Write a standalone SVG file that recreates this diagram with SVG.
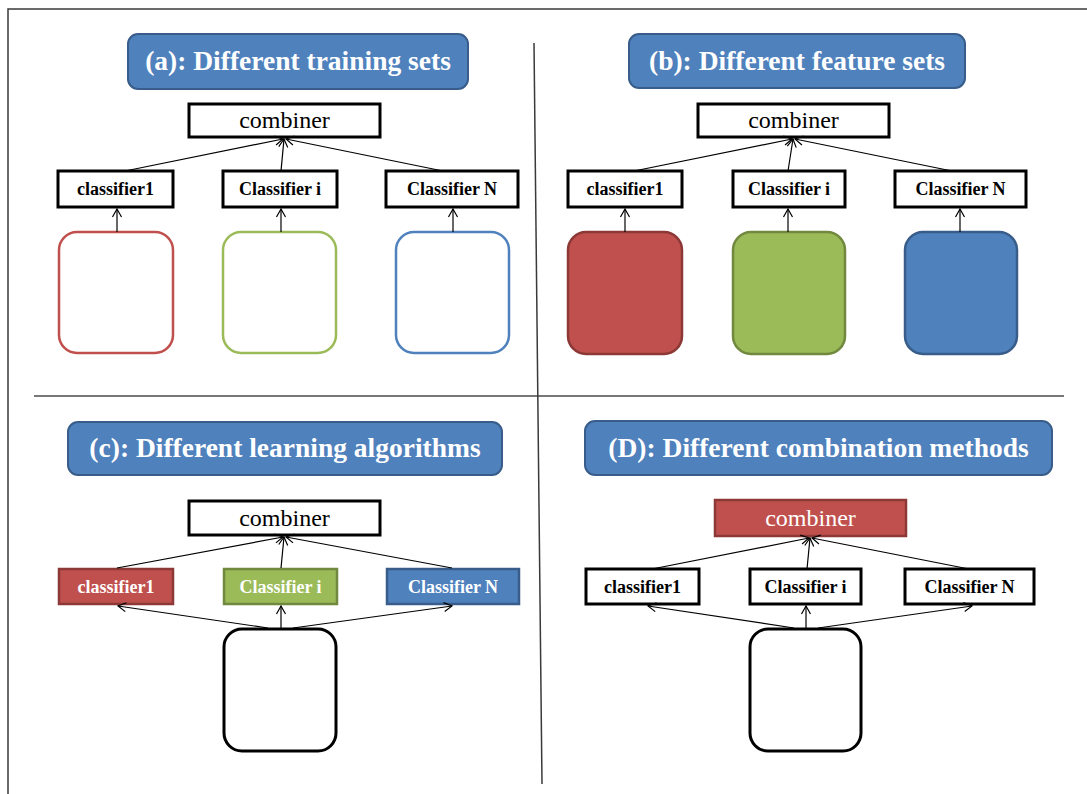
<svg xmlns="http://www.w3.org/2000/svg" width="1087" height="794" viewBox="0 0 1087 794">
  <defs>
    <marker id="arrow" markerUnits="userSpaceOnUse" markerWidth="12" markerHeight="12" viewBox="0 0 12 12" refX="10" refY="6" orient="auto">
      <path d="M2,1.5 L10,6 L2,10.5" fill="none" stroke="#000" stroke-width="1.2"/>
    </marker>
    <style>
      .frame { stroke: #3a3a3a; stroke-width: 1.5; fill: none; }
      .divider { stroke: #777; stroke-width: 2; fill: none; }
      .title-box { fill: #4F81BD; stroke: #385D8A; stroke-width: 2; }
      .title { font-family: "Liberation Serif", "Times New Roman", serif; font-weight: bold; font-size: 27.5px; fill: #fff; text-anchor: middle; }
      .box { fill: #fff; stroke: #000; stroke-width: 3; }
      .comb-text { font-family: "Liberation Serif", "Times New Roman", serif; font-size: 24px; fill: #000; text-anchor: middle; }
      .cls-text { font-family: "Liberation Serif", "Times New Roman", serif; font-weight: bold; font-size: 18px; fill: #000; text-anchor: middle; }
      .white { fill: #fff; }
      .red-fill { fill: #C0504D; stroke: #8C3836; stroke-width: 2.5; }
      .green-fill { fill: #9BBB59; stroke: #71893F; stroke-width: 2.5; }
      .blue-fill { fill: #4F81BD; stroke: #385D8A; stroke-width: 2.5; }
      .red-line { fill: #fff; stroke: #C0504D; stroke-width: 2.5; }
      .green-line { fill: #fff; stroke: #9BBB59; stroke-width: 2.5; }
      .blue-line { fill: #fff; stroke: #4F81BD; stroke-width: 2.5; }
      .black-line { fill: #fff; stroke: #000; stroke-width: 3; }
      .conn { stroke: #000; stroke-width: 1.2; fill: none; marker-end: url(#arrow); }
    </style>
  </defs>

  <rect x="0" y="0" width="1087" height="794" fill="#fff"/>

  <!-- outer frame and quadrant dividers -->
  <g id="layout">
    <path class="frame" d="M8,794 L8,9 L1087,9"/>
    <line class="divider" x1="34" y1="396" x2="1064" y2="396"/>
    <line class="frame" x1="534" y1="43" x2="542" y2="784"/>
  </g>

  <!-- (a) different training sets -->
  <g id="title-a">
    <rect class="title-box" x="128" y="34" width="340" height="55" rx="10"/>
    <text class="title" x="298" y="70">(a): Different training sets</text>
  </g>
  <g id="combiner-a">
    <rect class="box" x="189" y="104" width="191" height="33"/>
    <text class="comb-text" x="284.5" y="128">combiner</text>
  </g>
  <g id="classifier1-a">
    <rect class="box" x="58" y="171" width="115" height="36"/>
    <text class="cls-text" x="115.5" y="195">classifier1</text>
  </g>
  <g id="classifieri-a">
    <rect class="box" x="223" y="171" width="114" height="36"/>
    <text class="cls-text" x="280" y="195">Classifier i</text>
  </g>
  <g id="classifierN-a">
    <rect class="box" x="386" y="171" width="132" height="36"/>
    <text class="cls-text" x="452" y="195">Classifier N</text>
  </g>
  <g id="data1-a"><rect class="red-line" x="59" y="232" width="114" height="121" rx="18"/></g>
  <g id="datai-a"><rect class="green-line" x="223" y="232" width="113" height="121" rx="18"/></g>
  <g id="dataN-a"><rect class="blue-line" x="396" y="232" width="113" height="121" rx="18"/></g>

  <!-- (b) different feature sets -->
  <g id="title-b">
    <rect class="title-box" x="629" y="34" width="336" height="54" rx="10"/>
    <text class="title" x="797" y="70">(b): Different feature sets</text>
  </g>
  <g id="combiner-b">
    <rect class="box" x="698" y="104" width="191" height="33"/>
    <text class="comb-text" x="793.5" y="128">combiner</text>
  </g>
  <g id="classifier1-b">
    <rect class="box" x="568" y="171" width="114" height="36"/>
    <text class="cls-text" x="625" y="195">classifier1</text>
  </g>
  <g id="classifieri-b">
    <rect class="box" x="733" y="171" width="112" height="36"/>
    <text class="cls-text" x="789" y="195">Classifier i</text>
  </g>
  <g id="classifierN-b">
    <rect class="box" x="895" y="171" width="131" height="36"/>
    <text class="cls-text" x="960.5" y="195">Classifier N</text>
  </g>
  <g id="data1-b"><rect class="red-fill" x="568" y="232" width="114" height="122" rx="18"/></g>
  <g id="datai-b"><rect class="green-fill" x="733" y="232" width="112" height="122" rx="18"/></g>
  <g id="dataN-b"><rect class="blue-fill" x="905" y="232" width="112" height="122" rx="18"/></g>

  <!-- (c) different learning algorithms -->
  <g id="title-c">
    <rect class="title-box" x="68" y="422" width="434" height="53" rx="10"/>
    <text class="title" x="285" y="457">(c): Different learning algorithms</text>
  </g>
  <g id="combiner-c">
    <rect class="box" x="189" y="501" width="191" height="34"/>
    <text class="comb-text" x="284.5" y="526">combiner</text>
  </g>
  <g id="classifier1-c">
    <rect class="red-fill" x="59" y="569" width="114" height="35" stroke-width="2"/>
    <text class="cls-text white" x="116" y="593">classifier1</text>
  </g>
  <g id="classifieri-c">
    <rect class="green-fill" x="224" y="569" width="113" height="35" stroke-width="2"/>
    <text class="cls-text white" x="280.5" y="593">Classifier i</text>
  </g>
  <g id="classifierN-c">
    <rect class="blue-fill" x="387" y="569" width="132" height="35" stroke-width="2"/>
    <text class="cls-text white" x="453" y="593">Classifier N</text>
  </g>
  <g id="data-c"><rect class="black-line" x="224" y="629" width="112" height="122" rx="18"/></g>

  <!-- (D) different combination methods -->
  <g id="title-d">
    <rect class="title-box" x="585" y="421" width="467" height="54" rx="10"/>
    <text class="title" x="818.5" y="457">(D): Different combination methods</text>
  </g>
  <g id="combiner-d">
    <rect class="red-fill" x="715" y="500" width="191" height="36" stroke-width="2"/>
    <text class="comb-text white" x="810.5" y="526">combiner</text>
  </g>
  <g id="classifier1-d">
    <rect class="box" x="586" y="569" width="113" height="35"/>
    <text class="cls-text" x="642.5" y="593">classifier1</text>
  </g>
  <g id="classifieri-d">
    <rect class="box" x="750" y="569" width="111" height="35"/>
    <text class="cls-text" x="805.5" y="593">Classifier i</text>
  </g>
  <g id="classifierN-d">
    <rect class="box" x="905" y="569" width="129" height="35"/>
    <text class="cls-text" x="969.5" y="593">Classifier N</text>
  </g>
  <g id="data-d"><rect class="black-line" x="750" y="629" width="111" height="122" rx="18"/></g>

  <!-- connectors -->
  <g id="connectors">
    <!-- (a) -->
    <line class="conn" x1="125" y1="171" x2="283" y2="139"/>
    <line class="conn" x1="281" y1="171" x2="284" y2="139"/>
    <line class="conn" x1="443" y1="171" x2="286" y2="139"/>
    <line class="conn" x1="117" y1="232" x2="117" y2="209"/>
    <line class="conn" x1="281" y1="232" x2="281" y2="209"/>
    <line class="conn" x1="453" y1="232" x2="453" y2="209"/>
    <!-- (b) -->
    <line class="conn" x1="634" y1="171" x2="792" y2="139"/>
    <line class="conn" x1="788" y1="171" x2="793" y2="139"/>
    <line class="conn" x1="952" y1="171" x2="795" y2="139"/>
    <line class="conn" x1="625" y1="232" x2="625" y2="209"/>
    <line class="conn" x1="788" y1="232" x2="788" y2="209"/>
    <line class="conn" x1="960" y1="232" x2="960" y2="209"/>
    <!-- (c) -->
    <line class="conn" x1="117" y1="568" x2="283" y2="537"/>
    <line class="conn" x1="281" y1="568" x2="284" y2="537"/>
    <line class="conn" x1="452" y1="568" x2="286" y2="537"/>
    <line class="conn" x1="268" y1="628" x2="118" y2="606"/>
    <line class="conn" x1="281" y1="628" x2="281" y2="606"/>
    <line class="conn" x1="293" y1="628" x2="452" y2="606"/>
    <!-- (D) -->
    <line class="conn" x1="652" y1="569" x2="809" y2="538"/>
    <line class="conn" x1="807" y1="569" x2="810" y2="538"/>
    <line class="conn" x1="969" y1="569" x2="812" y2="538"/>
    <line class="conn" x1="794" y1="628" x2="648" y2="606"/>
    <line class="conn" x1="806" y1="628" x2="806" y2="606"/>
    <line class="conn" x1="818" y1="628" x2="972" y2="606"/>
  </g>
</svg>
